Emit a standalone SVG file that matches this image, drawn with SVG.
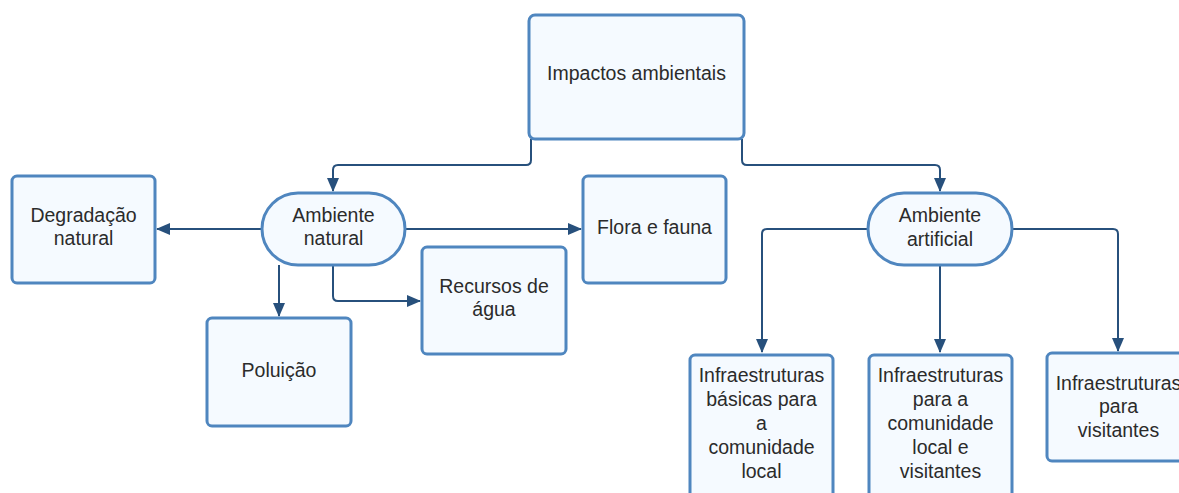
<svg xmlns="http://www.w3.org/2000/svg" width="1179" height="493" viewBox="0 0 1179 493">
<style>
.box{fill:#f5faff;stroke:#4f86bf;stroke-width:3}
.t{font-family:"Liberation Sans",Arial,sans-serif;font-size:19.5px;fill:#2b2b2b;text-anchor:middle}
.c{fill:none;stroke:#27507c;stroke-width:2}
</style>
<defs>
<marker id="ah" markerWidth="14" markerHeight="12" refX="13" refY="6" orient="auto" markerUnits="userSpaceOnUse">
<path d="M0,0 L14,6 L0,12 Z" fill="#27507c"/>
</marker>
</defs>
<rect width="1179" height="493" fill="#ffffff"/>
<g id="connectors">
<path class="c" d="M531,139 V160 Q531,165 526,165 H338 Q333,165 333,170 V191" marker-end="url(#ah)"/>
<path class="c" d="M742,139 V160 Q742,165 747,165 H935 Q940,165 940,170 V191" marker-end="url(#ah)"/>
<path class="c" d="M261,229 H157" marker-end="url(#ah)"/>
<path class="c" d="M405,229 H581" marker-end="url(#ah)"/>
<path class="c" d="M279,265 V316" marker-end="url(#ah)"/>
<path class="c" d="M333,265 V296 Q333,301 338,301 H420" marker-end="url(#ah)"/>
<path class="c" d="M868,229 H767 Q762,229 762,234 V352" marker-end="url(#ah)"/>
<path class="c" d="M940,265 V352" marker-end="url(#ah)"/>
<path class="c" d="M1012,229 H1113 Q1118,229 1118,234 V351" marker-end="url(#ah)"/>
</g>
<g id="impactos">
<rect class="box" x="529" y="15" width="215" height="124" rx="6"/>
<text class="t" x="636.5" y="80">Impactos ambientais</text>
</g>
<g id="degradacao">
<rect class="box" x="12" y="176" width="143" height="107" rx="5"/>
<text class="t" x="83.5" y="222">Degradação</text>
<text class="t" x="83.5" y="245">natural</text>
</g>
<g id="ambiente-natural">
<rect class="box" x="262" y="193" width="143" height="72" rx="36"/>
<text class="t" x="333.5" y="222">Ambiente</text>
<text class="t" x="333.5" y="245">natural</text>
</g>
<g id="flora">
<rect class="box" x="583" y="176" width="143" height="107" rx="5"/>
<text class="t" x="654.5" y="234">Flora e fauna</text>
</g>
<g id="recursos">
<rect class="box" x="422" y="247" width="144" height="107" rx="5"/>
<text class="t" x="494" y="293">Recursos de</text>
<text class="t" x="494" y="316">água</text>
</g>
<g id="poluicao">
<rect class="box" x="207" y="318" width="144" height="108" rx="5"/>
<text class="t" x="279" y="377">Poluição</text>
</g>
<g id="ambiente-artificial">
<rect class="box" x="868" y="193" width="144" height="72" rx="36"/>
<text class="t" x="940" y="222">Ambiente</text>
<text class="t" x="940" y="246">artificial</text>
</g>
<g id="infra-basicas">
<rect class="box" x="690" y="355" width="143" height="150" rx="5"/>
<text class="t" x="761.5" y="382">Infraestruturas</text>
<text class="t" x="761.5" y="406">básicas para</text>
<text class="t" x="761.5" y="430">a</text>
<text class="t" x="761.5" y="454">comunidade</text>
<text class="t" x="761.5" y="478">local</text>
</g>
<g id="infra-comunidade-visitantes">
<rect class="box" x="869" y="355" width="143" height="150" rx="5"/>
<text class="t" x="940.5" y="382">Infraestruturas</text>
<text class="t" x="940.5" y="406">para a</text>
<text class="t" x="940.5" y="430">comunidade</text>
<text class="t" x="940.5" y="454">local e</text>
<text class="t" x="940.5" y="478">visitantes</text>
</g>
<g id="infra-visitantes">
<rect class="box" x="1047" y="353" width="143" height="108" rx="5"/>
<text class="t" x="1118.5" y="390">Infraestruturas</text>
<text class="t" x="1118.5" y="413">para</text>
<text class="t" x="1118.5" y="437">visitantes</text>
</g>
</svg>
